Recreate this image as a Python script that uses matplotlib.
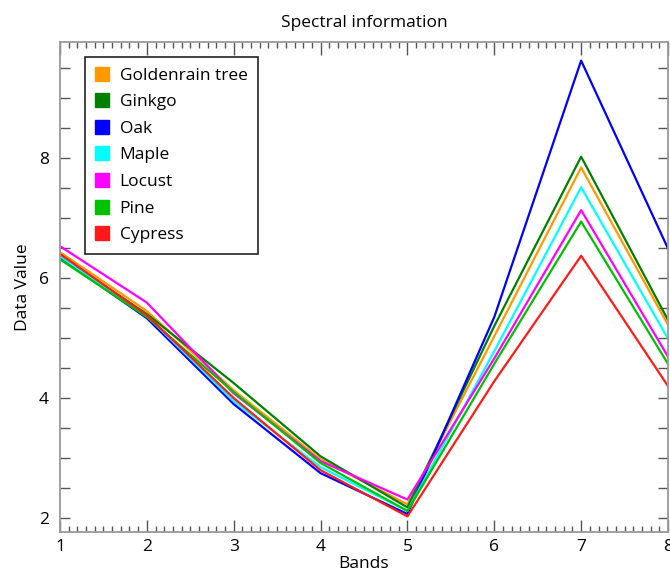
import numpy as np
import matplotlib.pyplot as plt
from matplotlib.ticker import MultipleLocator

plt.rcParams['font.family'] = ['Open Sans', 'DejaVu Sans']

bands = [1, 2, 3, 4, 5, 6, 7, 8]
names = ['Goldenrain tree', 'Ginkgo', 'Oak', 'Maple', 'Locust', 'Pine', 'Cypress']
colors = ['#FF9900', '#008000', '#0000FF', '#00FFFF', '#FF00FF', '#00C000', '#FF1A1A']

goldenrain = [6.43, 5.45, 4.13, 2.98, 2.23, 5.03, 7.84, 5.22]
ginkgo = [6.37, 5.40, 4.25, 3.03, 2.18, 5.20, 8.02, 5.30]
oak = [6.34, 5.33, 3.90, 2.75, 2.07, 5.35, 9.62, 6.49]
maple = [6.36, 5.37, 3.95, 2.85, 2.12, 4.78, 7.51, 4.99]
locust = [6.53, 5.59, 4.08, 2.95, 2.31, 4.66, 7.13, 4.69]
pine = [6.31, 5.35, 4.10, 2.92, 2.12, 4.57, 6.94, 4.57]
cypress = [6.40, 5.38, 4.00, 2.80, 2.03, 4.28, 6.37, 4.20]
series = [goldenrain, ginkgo, oak, maple, locust, pine, cypress]

fs = 12.5

fig = plt.figure(figsize=(6.7, 5.75), dpi=100)
ax = fig.add_axes([60/670, 43/575, 608/670, 490/575])

for name, col, vals in zip(names, colors, series):
    ax.plot(bands, vals, color=col, lw=1.6, label=name)

ax.set_xlim(1, 8)
ax.set_ylim(1.77, 9.93)
ax.xaxis.set_major_locator(MultipleLocator(1))
ax.xaxis.set_minor_locator(MultipleLocator(0.1))
ax.yaxis.set_major_locator(MultipleLocator(2))
ax.yaxis.set_minor_locator(MultipleLocator(0.5))

for s in ax.spines.values():
    s.set_color('#9a9a9a')
    s.set_linewidth(1.3)
ax.tick_params(which='both', direction='in', top=True, right=True,
               color='#555555', labelsize=fs, width=1)
ax.tick_params(axis='x', which='major', length=9, pad=5)
ax.tick_params(axis='x', which='minor', length=4.5)
ax.tick_params(axis='y', which='both', length=7, pad=8)

ax.set_title('Spectral information', fontsize=fs, pad=11)
ax.set_xlabel('Bands', fontsize=fs, labelpad=1)
ax.set_ylabel('Data Value', fontsize=fs, labelpad=6)

handles = [plt.Line2D([], [], ls='none', marker='s', ms=10, color=c) for c in colors]
leg = ax.legend(handles, names, loc='upper left', bbox_to_anchor=(0.041, 0.969),
                borderaxespad=0, fontsize=fs, fancybox=False, framealpha=1,
                handlelength=0.8, handletextpad=0.6, labelspacing=0.6,
                borderpad=0.6)
leg.get_frame().set_edgecolor('#222222')
leg.get_frame().set_linewidth(1.2)

plt.savefig('out.png', dpi=100)
